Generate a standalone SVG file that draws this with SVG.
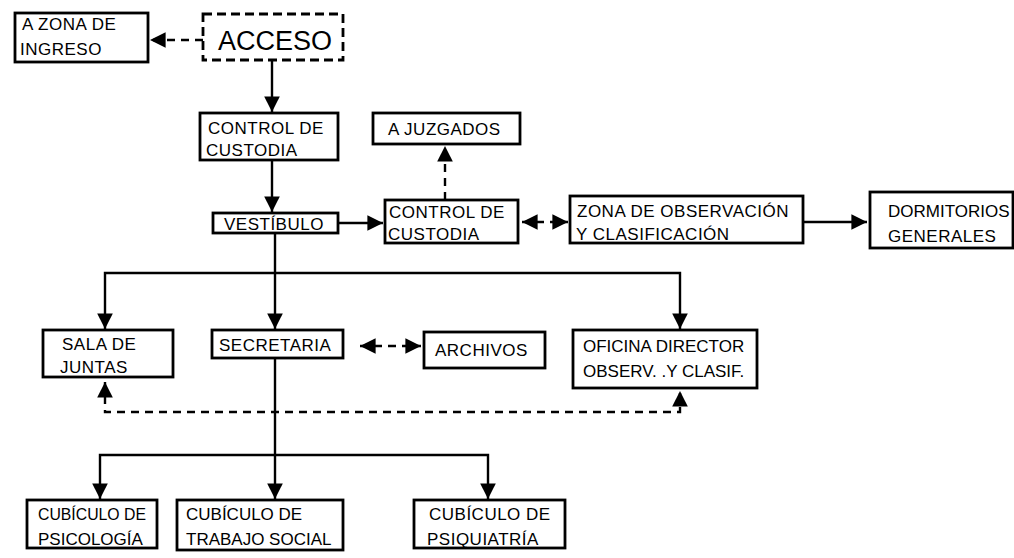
<svg xmlns="http://www.w3.org/2000/svg" width="1014" height="558" viewBox="0 0 1014 558">
<style>
.box{fill:#fff;stroke:#000;stroke-width:2.8}
.dbox{fill:#fff;stroke:#000;stroke-width:2.8;stroke-dasharray:9 5}
.t{font-family:"Liberation Sans",Arial,sans-serif;font-size:17px;letter-spacing:0.5px;fill:#000}
.n{letter-spacing:0}
.big{font-family:"Liberation Sans",Arial,sans-serif;font-size:27px;fill:#000}
.c{fill:none;stroke:#000;stroke-width:2.4}
.d{fill:none;stroke:#000;stroke-width:2.4;stroke-dasharray:8 6}
</style>
<defs>
<marker id="ah" viewBox="0 0 10 10" refX="10" refY="5" markerWidth="6.5" markerHeight="6.5" orient="auto" markerUnits="strokeWidth">
<path d="M0,0 L10,5 L0,10 z" fill="#000"/>
</marker>
<marker id="as" viewBox="0 0 10 10" refX="0" refY="5" markerWidth="6.5" markerHeight="6.5" orient="auto" markerUnits="strokeWidth">
<path d="M10,0 L0,5 L10,10 z" fill="#000"/>
</marker>
</defs>
<rect width="1014" height="558" fill="#fff"/>
<g id="connectors">
<path class="d" d="M203,40 H150" marker-end="url(#ah)"/>
<path class="c" d="M272,60 V112" marker-end="url(#ah)"/>
<path class="c" d="M272,160 V212" marker-end="url(#ah)"/>
<path class="c" d="M338,223 H383" marker-end="url(#ah)"/>
<path class="d" d="M445,200 V146" marker-end="url(#ah)"/>
<path class="d" d="M522,222 H568" marker-start="url(#as)" marker-end="url(#ah)"/>
<path class="c" d="M803,222 H867" marker-end="url(#ah)"/>
<path class="c" d="M275,233 V329" marker-end="url(#ah)"/>
<path class="c" d="M105,329 V273 H680 V329" marker-start="url(#as)" marker-end="url(#ah)"/>
<path class="d" d="M360,346 H421" marker-start="url(#as)" marker-end="url(#ah)"/>
<path class="d" d="M105,382 V412 H680 V391" marker-start="url(#as)" marker-end="url(#ah)"/>
<path class="c" d="M275,358 V499" marker-end="url(#ah)"/>
<path class="c" d="M100,499 V455 H488 V499" marker-start="url(#as)" marker-end="url(#ah)"/>
</g>
<g id="n-zona-ingreso"><rect class="box" x="15" y="13" width="133" height="49"/><text class="t" x="22" y="30">A ZONA DE</text><text class="t" x="20" y="55">INGRESO</text></g>
<g id="n-acceso"><rect class="dbox" x="203" y="14" width="140" height="46"/><text class="big" x="218" y="50">ACCESO</text></g>
<g id="n-control1"><rect class="box" x="200" y="113" width="138" height="47"/><text class="t" x="208" y="134">CONTROL DE</text><text class="t" x="206" y="156">CUSTODIA</text></g>
<g id="n-juzgados"><rect class="box" x="373" y="113" width="147" height="31"/><text class="t" x="388" y="135">A JUZGADOS</text></g>
<g id="n-vestibulo"><rect class="box" x="213" y="213" width="125" height="20"/><text class="t" x="224" y="230">VESTÍBULO</text></g>
<g id="n-control2"><rect class="box" x="385" y="200" width="133" height="43"/><text class="t" x="389" y="218">CONTROL DE</text><text class="t" x="388" y="240">CUSTODIA</text></g>
<g id="n-observacion"><rect class="box" x="570" y="196" width="233" height="47"/><text class="t" x="577" y="217">ZONA DE OBSERVACIÓN</text><text class="t" x="576" y="240">Y CLASIFICACIÓN</text></g>
<g id="n-dormitorios"><rect class="box" x="870" y="192" width="143" height="56"/><text class="t n" x="888" y="217">DORMITORIOS</text><text class="t" x="888" y="242">GENERALES</text></g>
<g id="n-sala"><rect class="box" x="43" y="330" width="130" height="47"/><text class="t" x="62" y="350">SALA DE</text><text class="t" x="60" y="373">JUNTAS</text></g>
<g id="n-secretaria"><rect class="box" x="212" y="330" width="131" height="28"/><text class="t" x="219" y="351">SECRETARIA</text></g>
<g id="n-archivos"><rect class="box" x="424" y="332" width="121" height="36"/><text class="t" x="435" y="356">ARCHIVOS</text></g>
<g id="n-oficina"><rect class="box" x="573" y="330" width="184" height="58"/><text class="t n" x="583" y="352">OFICINA DIRECTOR</text><text class="t n" x="583" y="377">OBSERV. .Y CLASIF.</text></g>
<g id="n-psicologia"><rect class="box" x="27" y="500" width="130" height="48"/><text class="t n" x="38" y="520" textLength="108" lengthAdjust="spacingAndGlyphs">CUBÍCULO DE</text><text class="t n" x="38" y="545">PSICOLOGÍA</text></g>
<g id="n-trabajo"><rect class="box" x="177" y="500" width="166" height="50"/><text class="t n" x="186" y="520">CUBÍCULO DE</text><text class="t n" x="186" y="545">TRABAJO SOCIAL</text></g>
<g id="n-psiquiatria"><rect class="box" x="414" y="500" width="151" height="48"/><text class="t" x="429" y="520">CUBÍCULO DE</text><text class="t" x="427" y="545">PSIQUIATRÍA</text></g>
</svg>
